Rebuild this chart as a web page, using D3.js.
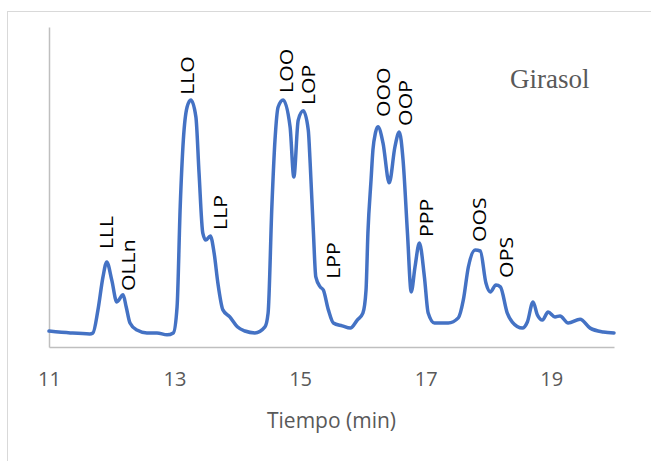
<!DOCTYPE html>
<html>
<head>
<meta charset="utf-8">
<script src="https://cdn.jsdelivr.net/npm/d3@7"></script>
<style>
  body { margin: 0; background: #fff; }
</style>
</head>
<body>
<div id="chart"></div>
<script>
"use strict";

// retention time (min) and detector signal
var tiempo = [
  11.00, 11.34, 11.65, 11.70, 11.78, 11.86, 11.92, 12.00, 12.08, 12.18,
  12.23, 12.29, 12.40, 12.56, 12.72, 12.88, 12.98, 13.04, 13.09, 13.14,
  13.20, 13.26, 13.34, 13.39, 13.45, 13.50, 13.57, 13.63, 13.69, 13.77,
  13.88, 14.00, 14.12, 14.28, 14.44, 14.49, 14.55, 14.60, 14.65, 14.73,
  14.84, 14.90, 14.97, 15.05, 15.13, 15.16, 15.21, 15.25, 15.32, 15.37,
  15.45, 15.53, 15.67, 15.80, 15.91, 16.00, 16.05, 16.08, 16.13, 16.16,
  16.20, 16.24, 16.32, 16.42, 16.51, 16.58, 16.64, 16.71, 16.77, 16.83,
  16.90, 16.98, 17.04, 17.14, 17.36, 17.52, 17.60, 17.68, 17.79, 17.87,
  17.96, 18.03, 18.12, 18.19, 18.30, 18.38, 18.54, 18.62, 18.71, 18.78,
  18.86, 18.95, 19.06, 19.14, 19.27, 19.46, 19.62, 19.83, 20.00
];
var senal = [
  5.0, 4.4, 4.1, 4.4, 11.6, 21.9, 26.6, 20.9, 14.1, 16.3,
  12.5, 7.5, 5.3, 4.4, 4.4, 3.8, 4.4, 12.5, 43.8, 64.7,
  75.0, 77.2, 71.9, 54.4, 35.6, 33.4, 34.7, 29.4, 20.0, 11.6,
  9.4, 6.3, 5.0, 4.4, 6.3, 10.6, 43.8, 64.7, 75.0, 77.2,
  68.8, 53.1, 70.9, 73.8, 67.8, 57.5, 36.6, 21.9, 18.8, 17.8,
  11.6, 7.5, 6.6, 5.9, 8.4, 10.6, 17.8, 35.6, 52.2, 61.6,
  66.9, 68.8, 63.8, 51.3, 62.5, 67.2, 58.4, 35.6, 17.2, 25.0,
  32.5, 21.9, 10.6, 7.5, 7.5, 9.1, 14.7, 25.0, 30.3, 30.0,
  20.0, 17.2, 19.4, 18.8, 10.6, 7.8, 5.9, 7.8, 14.1, 10.0,
  8.4, 10.9, 9.4, 9.7, 7.5, 8.7, 5.9, 4.7, 4.4
];

// peak labels and where they sit (time, signal)
var picos = ["LLL", "OLLn", "LLO", "LLP", "LOO", "LOP", "LPP", "OOO", "OOP", "PPP", "OOS", "OPS"];
var picoTiempo = [12.02, 12.37, 13.31, 13.84, 14.89, 15.24, 15.64, 16.43, 16.78, 17.12, 17.96, 18.39];
var picoSenal = [30.6, 17.5, 78.8, 36.6, 79.4, 75.6, 21.3, 71.9, 69.1, 34.4, 32.8, 21.6];

var xTicks = [11, 13, 15, 17, 19];
var titulo = "Girasol";
var ejeX = "Tiempo (min)";

draw();

function draw() {
  var width = 651,
    height = 461;

  var data = tiempo.map(function(t, i) {
    return { x: t, y: senal[i] };
  });

  var x = d3.scaleLinear().domain([11, 20]).range([49, 614]);
  var y = d3.scaleLinear().domain([0, 100]).range([347, 27]);

  var svg = d3
    .select("#chart")
    .append("svg")
    .attr("width", width)
    .attr("height", height)
    .style("display", "block");

  svg.append("rect").attr("width", width).attr("height", height).attr("fill", "#fff");

  // chart frame, cut by the picture edges
  svg
    .append("rect")
    .attr("x", 7.5)
    .attr("y", 11.5)
    .attr("width", 700)
    .attr("height", 500)
    .attr("fill", "none")
    .attr("stroke", "#d9d9d9");

  var xAxis = svg
    .append("g")
    .attr("transform", "translate(0," + y(0) + ")")
    .call(
      d3
        .axisBottom(x)
        .tickValues(xTicks)
        .tickSize(0)
        .tickSizeOuter(0)
        .tickPadding(25)
        .tickFormat(d3.format("d"))
    );
  xAxis.select(".domain").attr("stroke", "#bfbfbf").attr("stroke-width", 1.5);
  xAxis
    .selectAll("text")
    .attr("fill", "#595959")
    .style("font-family", "'Open Sans', sans-serif")
    .style("font-size", "20px");

  var yAxis = svg
    .append("g")
    .attr("transform", "translate(" + x(11) + ",0)")
    .call(d3.axisLeft(y).ticks(0).tickSizeOuter(0));
  yAxis.select(".domain").attr("stroke", "#bfbfbf").attr("stroke-width", 1.5);

  var valueline = d3
    .line()
    .curve(d3.curveMonotoneX)
    .x(function(d) {
      return x(d.x);
    })
    .y(function(d) {
      return y(d.y);
    });

  svg
    .append("path")
    .datum(data)
    .attr("d", valueline)
    .attr("fill", "none")
    .attr("stroke", "#4472c4")
    .attr("stroke-width", 3.5)
    .attr("stroke-linejoin", "round")
    .attr("stroke-linecap", "round");

  svg
    .selectAll(".pico")
    .data(picos)
    .enter()
    .append("text")
    .attr("class", "pico")
    .attr("transform", function(d, i) {
      return "translate(" + x(picoTiempo[i]) + "," + y(picoSenal[i]) + ") rotate(-90) scale(1.18,1)";
    })
    .attr("fill", "#000")
    .style("font-family", "'Open Sans', sans-serif")
    .style("font-size", "18px")
    .text(function(d) {
      return d;
    });

  svg
    .append("text")
    .attr("x", 510)
    .attr("y", 88)
    .attr("fill", "#595959")
    .style("font-family", "'Liberation Serif', serif")
    .style("font-size", "27px")
    .text(titulo);

  svg
    .append("text")
    .attr("x", (x(11) + x(20)) / 2)
    .attr("y", 428)
    .attr("text-anchor", "middle")
    .attr("fill", "#595959")
    .style("font-family", "'Open Sans', sans-serif")
    .style("font-size", "21px")
    .text(ejeX);
}
</script>
</body>
</html>
